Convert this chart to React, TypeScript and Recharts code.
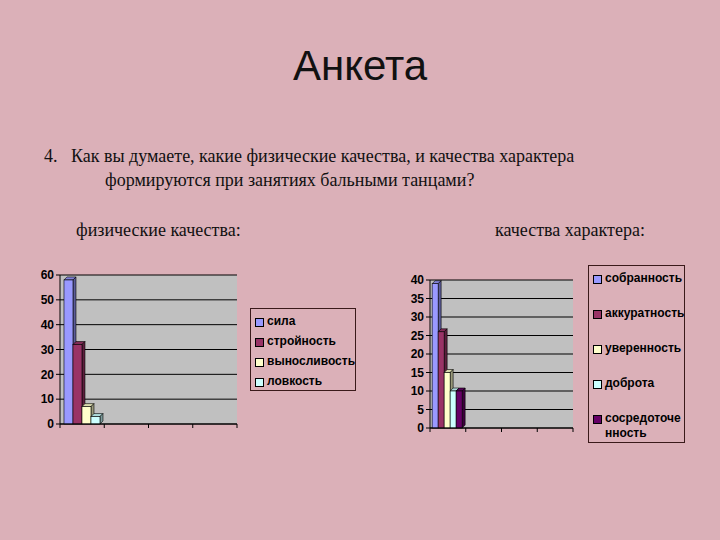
import { BarChart, Bar, XAxis, YAxis, CartesianGrid } from "recharts";

// 4 category slots on the x axis, only the first one holds answers
const categories = ["1", "2", "3", "4"];

const physNames = ["сила", "стройность", "выносливость", "ловкость"];
const physValues = [58, 32, 7, 3];
const physColors = ["#9999ff", "#993366", "#ffffcc", "#ccffff"];
const physTicks = [0, 10, 20, 30, 40, 50, 60];

const charNames = ["собранность", "аккуратность", "уверенность", "доброта", "сосредоточенность"];
const charValues = [39, 26, 15, 10, 10];
const charColors = ["#9999ff", "#993366", "#ffffcc", "#ccffff", "#660066"];
const charTicks = [0, 5, 10, 15, 20, 25, 30, 35, 40];

const PAGE_BG = "#dbb0b8";
const SANS = "Arial, 'Liberation Sans', sans-serif";
const SERIF = "'Liberation Serif', 'Times New Roman', serif";

function shade(hex: string, k: number) {
  const n = parseInt(hex.slice(1), 16);
  const r = Math.round(((n >> 16) & 255) * k);
  const g = Math.round(((n >> 8) & 255) * k);
  const b = Math.round((n & 255) * k);
  return `rgb(${r},${g},${b})`;
}

function Bar3D(props: any) {
  const { x, y, width, height, fill } = props;
  if (!height || height <= 0) return null;
  const d = 3;
  return (
    <g>
      <polygon
        points={`${x},${y} ${x + d},${y - d} ${x + width + d},${y - d} ${x + width},${y}`}
        fill={shade(fill, 0.85)}
        stroke="#000"
        strokeWidth={0.6}
      />
      <polygon
        points={`${x + width},${y} ${x + width + d},${y - d} ${x + width + d},${y + height - d} ${x + width},${y + height}`}
        fill={shade(fill, 0.6)}
        stroke="#000"
        strokeWidth={0.6}
      />
      <rect x={x} y={y} width={width} height={height} fill={fill} stroke="#000" strokeWidth={0.6} />
    </g>
  );
}

interface ChartProps {
  names: string[];
  values: number[];
  colors: string[];
  ticks: number[];
  left: number;
  top: number;
  width: number;
  height: number;
  gap: string;
}

function QualityChart({ names, values, colors, ticks, left, top, width, height, gap }: ChartProps) {
  const data = categories.map((c, i) => {
    const row: any = { cat: c };
    names.forEach((n, j) => {
      row[n] = i === 0 ? values[j] : null;
    });
    return row;
  });
  const margin = { top: 10, right: 3, left: 0, bottom: 3 };
  const band = (width - 40 - margin.right) / categories.length;

  // excel puts the x tick marks between categories
  const BoundaryTick = (p: any) => {
    const x0 = p.x - band / 2;
    return (
      <g>
        <line x1={x0} y1={p.y} x2={x0} y2={p.y + 4} stroke="#000" />
        {p.index === categories.length - 1 && (
          <line x1={p.x + band / 2} y1={p.y} x2={p.x + band / 2} y2={p.y + 4} stroke="#000" />
        )}
      </g>
    );
  };

  return (
    <div style={{ position: "absolute", left, top }}>
      <BarChart width={width} height={height} data={data} margin={margin} barGap={0} barCategoryGap={gap}>
        <CartesianGrid vertical={false} stroke="#000" fill="#c0c0c0" strokeOpacity={1} />
        <XAxis
          dataKey="cat"
          height={8}
          axisLine={{ stroke: "#000" }}
          tickLine={false}
          tickSize={0}
          tickMargin={0}
          tick={<BoundaryTick />}
          interval={0}
        />
        <YAxis
          width={40}
          domain={[0, ticks[ticks.length - 1]]}
          ticks={ticks}
          interval={0}
          axisLine={{ stroke: "#000" }}
          tickLine={{ stroke: "#000" }}
          tickSize={4}
          tick={{ fill: "#000", fontSize: 12, fontWeight: "bold", fontFamily: SANS }}
        />
        {names.map((n, j) => (
          <Bar key={n} dataKey={n} fill={colors[j]} shape={<Bar3D />} isAnimationActive={false} />
        ))}
      </BarChart>
    </div>
  );
}

interface LegendProps {
  names: string[];
  colors: string[];
  left: number;
  top: number;
  width: number;
  height: number;
  rowGap: number;
}

function wrapName(name: string) {
  if (name.length <= 12) return name;
  return (
    <>
      {name.slice(0, 11)}
      <br />
      {name.slice(11)}
    </>
  );
}

function BoxLegend({ names, colors, left, top, width, height, rowGap }: LegendProps) {
  return (
    <div
      style={{
        position: "absolute",
        left,
        top,
        width,
        height,
        boxSizing: "border-box",
        border: "1px solid #3a1a1a",
        padding: "5px 0 0 4px",
        display: "flex",
        flexDirection: "column",
        gap: rowGap,
      }}
    >
      {names.map((n, j) => (
        <div key={n} style={{ display: "flex", alignItems: "flex-start", fontFamily: SANS, fontWeight: "bold", fontSize: 12, lineHeight: "15px", color: "#000" }}>
          <span
            style={{
              display: "inline-block",
              width: 7,
              height: 7,
              marginTop: 4,
              marginRight: 3,
              background: colors[j],
              border: "1px solid #000",
              flexShrink: 0,
            }}
          />
          <span>{wrapName(n)}</span>
        </div>
      ))}
    </div>
  );
}

export default function App() {
  return (
    <div style={{ position: "fixed", left: 0, top: 0, width: 720, height: 540, background: PAGE_BG, overflow: "hidden" }}>
      <div style={{ position: "absolute", left: 0, width: 720, top: 42, textAlign: "center", fontFamily: SANS, fontSize: 42, color: "#111" }}>
        <span style={{ marginLeft: 0 }}>Анкета</span>
      </div>
      <div style={{ position: "absolute", left: 44, top: 146, fontFamily: SERIF, fontSize: 18, color: "#111" }}>4.</div>
      <div style={{ position: "absolute", left: 71, top: 146, fontFamily: SERIF, fontSize: 18, color: "#111", whiteSpace: "nowrap" }}>
        Как вы думаете, какие физические качества, и качества характера
      </div>
      <div style={{ position: "absolute", left: 105, top: 170, fontFamily: SERIF, fontSize: 18, color: "#111", whiteSpace: "nowrap" }}>
        формируются при занятиях бальными танцами?
      </div>
      <div style={{ position: "absolute", left: 76, top: 220, fontFamily: SERIF, fontSize: 18, color: "#111", whiteSpace: "nowrap" }}>
        физические качества:
      </div>
      <div style={{ position: "absolute", left: 495, top: 220, fontFamily: SERIF, fontSize: 18, color: "#111", whiteSpace: "nowrap" }}>
        качества характера:
      </div>

      <QualityChart
        names={physNames}
        values={physValues}
        colors={physColors}
        ticks={physTicks}
        left={20}
        top={265}
        width={220}
        height={170}
        gap="9%"
      />
      <BoxLegend names={physNames} colors={physColors} left={250} top={308} width={106} height={83} rowGap={5} />

      <QualityChart
        names={charNames}
        values={charValues}
        colors={charColors}
        ticks={charTicks}
        left={390}
        top={270}
        width={186}
        height={169}
        gap="6%"
      />
      <BoxLegend names={charNames} colors={charColors} left={588} top={265} width={97} height={178} rowGap={20} />
    </div>
  );
}
